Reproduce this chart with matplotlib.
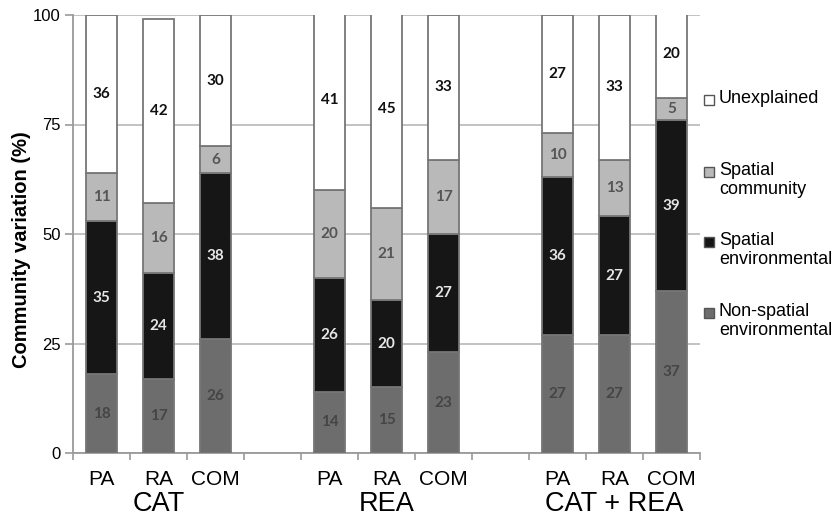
import matplotlib
matplotlib.use("Agg")
import matplotlib.pyplot as plt
from matplotlib.patches import Rectangle
import matplotlib.transforms as mtransforms

# bar labels and groups
bar_labels = ["PA", "RA", "COM", "PA", "RA", "COM", "PA", "RA", "COM"]
groups = ["CAT", "REA", "CAT + REA"]

# variation partitioning (%), bottom to top
non_spatial_env = [18, 17, 26, 14, 15, 23, 27, 27, 37]
spatial_env = [35, 24, 38, 26, 20, 27, 36, 27, 39]
spatial_comm = [11, 16, 6, 20, 21, 17, 10, 13, 5]
unexplained = [36, 42, 30, 41, 45, 33, 27, 33, 20]

series = [
    ("Non-spatial\nenvironmental", non_spatial_env, "#6d6d6d", "#454545"),
    ("Spatial\nenvironmental", spatial_env, "#161616", "#e6e6e6"),
    ("Spatial\ncommunity", spatial_comm, "#b9b9b9", "#555555"),
    ("Unexplained", unexplained, "#ffffff", "#111111"),
]

plt.rcParams["font.family"] = ["Liberation Sans", "DejaVu Sans"]

fig = plt.figure(figsize=(8.39, 5.17), dpi=100)
ax = fig.add_axes([73 / 839, 1 - 453 / 517, 627 / 839, 438 / 517])

# one empty slot between the groups
x = [0, 1, 2, 4, 5, 6, 8, 9, 10]
width = 0.56
bottom = [0] * len(x)
for name, vals, color, tcolor in series:
    ax.bar(x, vals, width, bottom=bottom, color=color, edgecolor="#767676",
           linewidth=1.3, zorder=3)
    for xi, b, v in zip(x, bottom, vals):
        ax.text(xi, b + v / 2, str(v), ha="center", va="center", fontsize=11,
                color=tcolor, family="Lato", fontweight="bold", zorder=4)
    bottom = [b + v for b, v in zip(bottom, vals)]

ax.set_xlim(-0.5, 10.5)
ax.set_ylim(0, 100)
ax.set_yticks([0, 25, 50, 75, 100])
ax.yaxis.grid(True, color="#bdbdbd", linewidth=1.3, zorder=0)
ax.tick_params(axis="y", labelsize=12, length=6, width=1.2, color="#9a9a9a", pad=3)
ax.set_ylabel("Community variation (%)", fontsize=14.5, fontweight="bold")
ax.yaxis.set_label_coords(-0.067, 0.465)

ax.set_xticks(x)
ax.set_xticklabels(bar_labels, fontsize=15)
ax.set_xticks([i + 0.5 for i in range(-1, 11)], minor=True)
ax.tick_params(axis="x", which="major", length=0, pad=12)
ax.tick_params(axis="x", which="minor", length=5, width=1.2, color="#9a9a9a")

for s in ["top", "right"]:
    ax.spines[s].set_visible(False)
for s in ["left", "bottom"]:
    ax.spines[s].set_color("#9a9a9a")
    ax.spines[s].set_linewidth(1.3)

trans = mtransforms.blended_transform_factory(ax.transData, ax.transAxes)
for gx, g in zip([1, 5, 9], groups):
    ax.text(gx, -0.117, g, transform=trans, ha="center", va="center", fontsize=19.5)

# legend drawn by hand, top entry first
legend_y = [100, 172, 242, 313]
for (name, vals, color, tcolor), ly in zip(series[::-1], legend_y):
    fig.patches.append(Rectangle((704 / 839, 1 - (ly + 5) / 517), 10 / 839, 10 / 517,
                                 transform=fig.transFigure, facecolor=color,
                                 edgecolor="#555555", linewidth=1.0))
    fig.text(719 / 839, 1 - (ly - 10) / 517, name, ha="left", va="top",
             fontsize=13, linespacing=1.15)

fig.savefig("out.png", dpi=100)
